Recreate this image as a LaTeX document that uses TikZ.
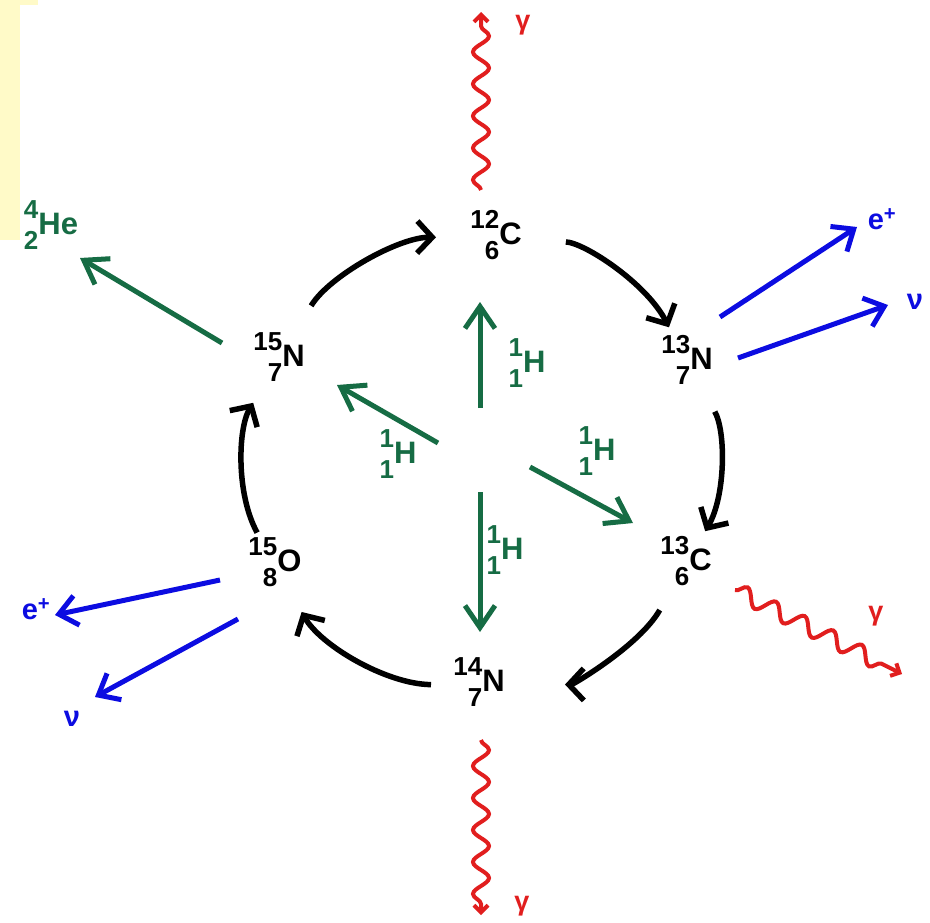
\documentclass[tikz,border=0pt]{standalone}
\usepackage{fontspec}
\setmainfont{Liberation Sans}
\usetikzlibrary{arrows.meta,decorations.pathmorphing}
\definecolor{hgreen}{RGB}{22,108,68}
\definecolor{nublue}{RGB}{12,12,225}
\definecolor{gamred}{RGB}{225,30,30}
\definecolor{paleyel}{RGB}{255,250,200}
\newcommand{\dg}{\fontsize{26}{31}\selectfont}
\newcommand{\nuc}[3]{{\dg\begin{tabular}{@{}r@{}}\dg#1\\\dg#2\end{tabular}}{\fontsize{31}{34}\selectfont#3}}
\begin{document}
\begin{tikzpicture}[x=1pt,y=-1pt]
\tikzstyle{nn}=[font=\bfseries,inner sep=0pt]
\tikzstyle{lb}=[font=\bfseries\fontsize{29}{29}\selectfont,inner sep=0pt]
\tikzstyle{gl}=[font=\bfseries\fontsize{27}{27}\selectfont,inner sep=0pt,gamred]
\tikzstyle{cyc}=[line width=5.5pt,-{Straight Barb[length=15pt,width=32pt]}]
\tikzstyle{pp}=[hgreen,line width=5pt,-{Straight Barb[length=22pt,width=30pt]}]
\tikzstyle{nu}=[nublue,line width=5pt,-{Straight Barb[length=18pt,width=30pt]}]
\tikzstyle{gam}=[gamred,line width=4pt,decorate,decoration={snake,amplitude=8pt,segment length=32pt,post length=10pt},-{Straight Barb[length=7pt,width=14pt]}]
\useasboundingbox (0,0) rectangle (930,923);
\fill[paleyel] (0,0) rectangle (20,240);
\fill[paleyel] (0,0) rectangle (38,5);
% nuclei of the cycle
\node [nn] (c12) at (496,238) {\nuc{12}{6}{C}};
\node [nn] (n13) at (687,363) {\nuc{13}{7}{N}};
\node [nn] (c13) at (686,564) {\nuc{13}{6}{C}};
\node [nn] (n14) at (479,685) {\nuc{14}{7}{N}};
\node [nn] (o15) at (275,565) {\nuc{15}{8}{O}};
\node [nn] (n15) at (279,360) {\nuc{15}{7}{N}};
\node [nn,hgreen] (he4) at (51,228) {\nuc{4}{2}{He}};
\draw [cyc,shorten <=70pt,shorten >=40pt] (c12.center) to[bend left=30] (n13.center);
\draw [cyc,shorten <=56pt,shorten >=38pt] (n13.center) to[bend left=30] (c13.center);
\draw [cyc,shorten <=53pt,shorten >=86pt] (c13.center) to[bend left=30] (n14.center);
\draw [cyc,shorten <=48pt,shorten >=54pt] (n14.center) to[bend left=30] (o15.center);
\draw [cyc,shorten <=37pt,shorten >=50pt] (o15.center) to[bend left=30] (n15.center);
\draw [cyc,shorten <=63pt,shorten >=60pt] (n15.center) to[bend left=30] (c12.center);
% protons
\coordinate (hu0) at (480,408); \coordinate (hu1) at (480,302);
\coordinate (hl0) at (438,443); \coordinate (hl1) at (337,385);
\coordinate (hr0) at (530,467); \coordinate (hr1) at (633,523);
\coordinate (hd0) at (480,492); \coordinate (hd1) at (480,632);
\coordinate (ha0) at (222,343); \coordinate (ha1) at (80,258);
\draw [pp] (hu0) -- (hu1);
\draw [pp] (hl0) -- (hl1);
\draw [pp] (hr0) -- (hr1);
\draw [pp] (hd0) -- (hd1);
\draw [pp] (ha0) -- (ha1);
\node [nn,hgreen] (hup) at (527,366) {\nuc{1}{1}{H}};
\node [nn,hgreen] (hle) at (398,457) {\nuc{1}{1}{H}};
\node [nn,hgreen] (hri) at (597,454) {\nuc{1}{1}{H}};
\node [nn,hgreen] (hdo) at (505,553) {\nuc{1}{1}{H}};
% positrons and neutrinos
\coordinate (b1a) at (720,317); \coordinate (b1b) at (857,227);
\coordinate (b2a) at (738,358); \coordinate (b2b) at (888,305);
\coordinate (b3a) at (220,580); \coordinate (b3b) at (55,615);
\coordinate (b4a) at (238,619); \coordinate (b4b) at (95,697);
\draw [nu] (b1a) -- (b1b);
\draw [nu] (b2a) -- (b2b);
\draw [nu] (b3a) -- (b3b);
\draw [nu] (b4a) -- (b4b);
\node [lb,nublue] (ep1) at (882,219) {e\textsuperscript{+}};
\node [lb,nublue] (nu1) at (915,302) {ν};
\node [lb,nublue] (ep2) at (36,609) {e\textsuperscript{+}};
\node [lb,nublue] (nu2) at (72,719) {ν};
% gamma rays
\coordinate (g1a) at (481,190); \coordinate (g1b) at (481,12);
\coordinate (g2a) at (481,740); \coordinate (g2b) at (481,915);
\coordinate (g3a) at (735,590); \coordinate (g3b) at (902,674);
\draw [gam] (g1a) -- (g1b);
\draw [gam] (g2a) -- (g2b);
\draw [gam] (g3a) -- (g3b);
\node [gl] (ga1) at (523,25) {γ};
\node [gl] (ga2) at (522,906) {γ};
\node [gl] (ga3) at (876,616) {γ};
\end{tikzpicture}
\end{document}
